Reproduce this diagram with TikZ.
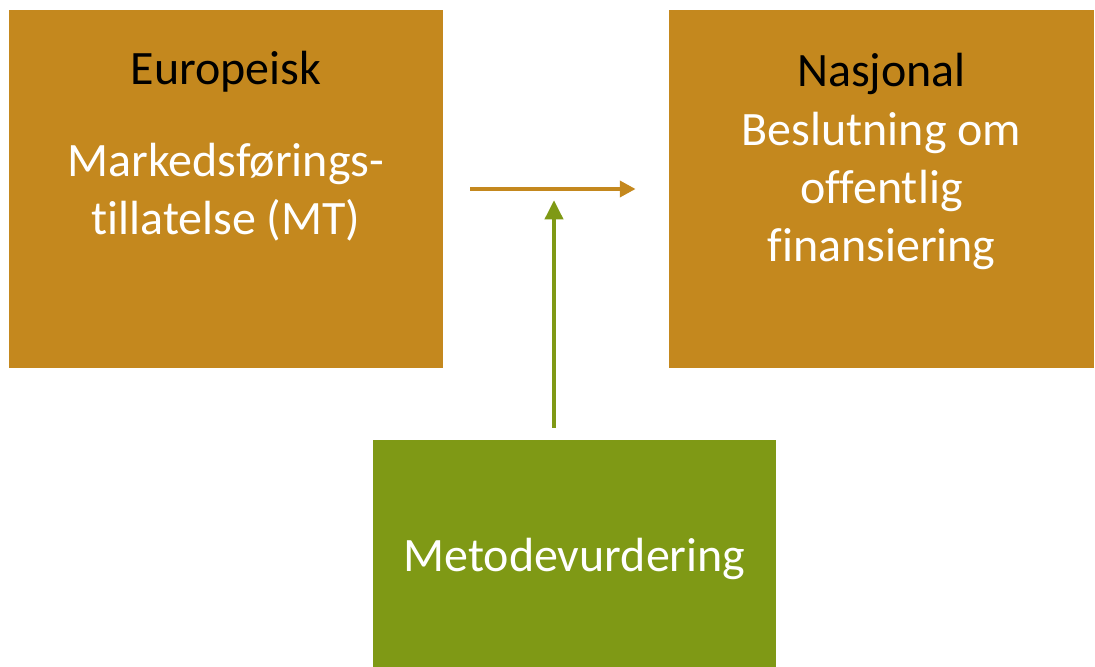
\documentclass[tikz,border=0pt]{standalone}
\usepackage{fontspec}
\setmainfont{Carlito}[Ligatures=NoCommon]
\usetikzlibrary{arrows.meta,positioning}
\definecolor{okker}{RGB}{196,136,30}
\definecolor{oliven}{RGB}{127,153,21}
\begin{document}
\begin{tikzpicture}[font=\fontsize{27.3}{33}\selectfont,
    box/.style = {draw=none, minimum height=7.16cm, inner sep=0pt},
    head/.style = {text=black, anchor=base},
    body/.style = {text=white, anchor=base, align=center},
    flow/.style = {-{Triangle[length=9pt,width=9pt]}, line width=2.3pt}]
    \useasboundingbox (0,0) rectangle (21.9,-13.34);
    \node[box, fill=okker, minimum width=8.68cm] (eu) at (4.52,-3.78) {};
    \node[box, fill=okker, minimum width=8.5cm] (nat) at (17.63,-3.78) {};
    \node[box, fill=oliven, minimum width=8.06cm, minimum height=4.54cm] (met) at (11.49,-11.07) {};
    
    \node[head] (eut) at ([yshift=-1.5cm]eu.north) {Europeisk};
    \node[body] (mt) at ([yshift=-4.5cm]eu.north) {Markedsførings-\\tillatelse (MT)};
    \node[head] (natt) at ([yshift=-1.54cm]nat.north) {Nasjonal};
    \node[body] (fin) at ([yshift=-5.04cm]nat.north) {Beslutning om\\offentlig\\finansiering};
    \node[body] (mett) at ([yshift=-2.64cm]met.north) {Metodevurdering};
    \coordinate (hit) at (11.08,-4.0);
    
    \draw[flow, okker, shorten <=0.54cm, shorten >=0.66cm] (eu.east) -- (nat.west);
    \draw[flow, oliven, line width=2.8pt, -{Triangle[length=11pt,width=10pt]}, shorten <=0.24cm] (hit |- met.north) -- (hit);
\end{tikzpicture}
\end{document}
